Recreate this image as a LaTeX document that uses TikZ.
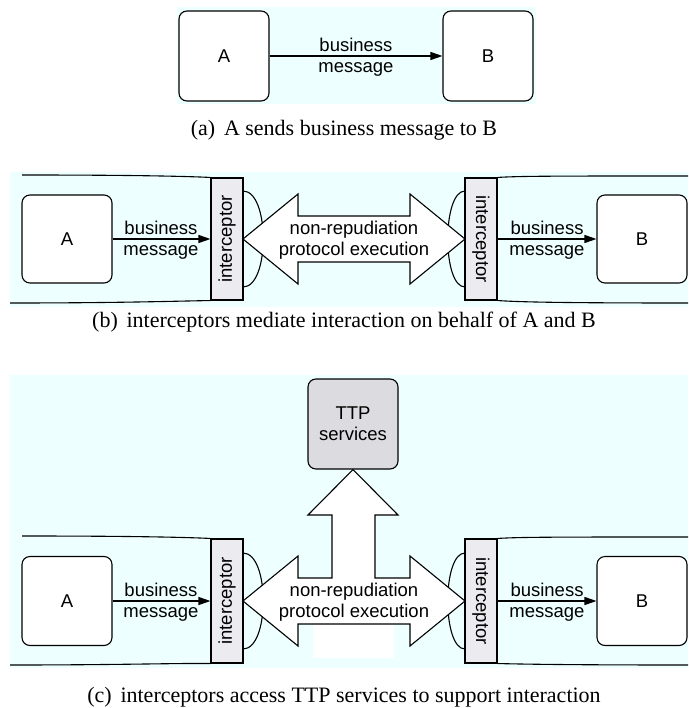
\documentclass[tikz,border=0pt]{standalone}
\usepackage{fontspec}
\usepackage{graphicx}
\setmainfont{Liberation Serif}
\newfontfamily\diagfont{Liberation Sans}
\usetikzlibrary{arrows.meta}

\definecolor{panelbg}{RGB}{238,255,255}
\definecolor{icfill}{RGB}{235,235,240}
\definecolor{ttpfill}{RGB}{220,220,224}

\tikzset{
  diagtext/.style={font=\diagfont\fontsize{18.5}{21}\selectfont},
  party/.style={draw, line width=1.1pt, rounded corners=8pt, fill=white,
    minimum width=90pt, minimum height=90pt, diagtext, align=center},
  ttp/.style={party, fill=ttpfill},
  icpt/.style={draw, line width=1.1pt, fill=icfill, minimum width=32pt,
    minimum height=122pt, inner sep=0pt, diagtext},
  msg/.style={-{Triangle[length=12pt,width=8pt]}, line width=1.1pt},
  msglabel/.style={align=center, diagtext, inner sep=0pt},
  bigarrow/.style={draw, fill=white, line width=1.1pt, line join=miter},
  edge/.style={line width=1.1pt},
  caption/.style={font=\fontsize{22}{25}\selectfont, inner sep=0pt}
}

\begin{document}
\begin{tikzpicture}[x=1pt,y=-1pt]
\useasboundingbox (0,0) rectangle (688,708);

% ---------- (a) direct interaction ----------
\fill[panelbg] (177,7) rectangle (536,104);
\node[party] (a-A) at (224,56) {A};
\node[party] (a-B) at (488,56) {B};
\draw[msg] (a-A) -- (a-B);
\node[msglabel] (a-msg) at (356,57) {business\\message};
\node[caption] (cap-a) at (344,130) {(a)\hspace{0.4em}A sends business message to B};

% ---------- (b) interceptors ----------
\fill[panelbg] (10,172) rectangle (688,307);
% interceptor bulges
\draw[edge] (243,191) .. controls (270,191) and (270,287) .. (243,287);
\draw[edge] (465,191) .. controls (442,191) and (442,287) .. (465,287);
% protocol arrow
\draw[bigarrow] (243,239) -- (298,194) -- (298,216) -- (410,216) -- (410,194)
  -- (465,239) -- (410,284) -- (410,262) -- (298,262) -- (298,284) -- cycle;
\node[msglabel] (b-proto) at (354,240) {non-repudiation\\protocol execution};
\node[icpt] (b-iL) at (227,239) {\rotatebox{90}{interceptor}};
\node[icpt] (b-iR) at (481,239) {\rotatebox{-90}{interceptor}};
\node[party, minimum height=88pt] (b-A) at (67,239) {A};
\node[party, minimum height=88pt] (b-B) at (642,239) {B};
\draw[msg] (b-A) -- (b-iL);
\draw[msg] (b-iR) -- (b-B);
\node[msglabel] (b-msgL) at (161,240) {business\\message};
\node[msglabel] (b-msgR) at (547,240) {business\\message};
% domain boundaries
\coordinate (b-tl) at (22,175);
\coordinate (b-bl) at (10,303);
\coordinate (b-tr) at (688,176);
\coordinate (b-br) at (688,303);
\draw[edge] (b-tl) .. controls (120,175) and (180,176) .. (b-iL.north west);
\draw[edge] (b-bl) .. controls (120,303) and (180,301) .. (b-iL.south west);
\draw[edge] (b-iR.north east) .. controls (520,176) and (560,176) .. (b-tr);
\draw[edge] (b-iR.south east) .. controls (520,302) and (560,303) .. (b-br);
\node[caption] (cap-b) at (344,322) {(b)\hspace{0.4em}interceptors mediate interaction on behalf of A and B};

% ---------- (c) interceptors with TTP ----------
\fill[panelbg] (10,375) rectangle (688,668);
\fill[white] (313,620) rectangle (394,658);
\draw[edge] (243,553) .. controls (270,553) and (270,649) .. (243,649);
\draw[edge] (465,553) .. controls (442,553) and (442,649) .. (465,649);
\node[ttp] (c-TTP) at (353,424) {TTP\\services};
\draw[bigarrow] (243,601) -- (298,556) -- (298,578) -- (332,578) -- (332,515)
  -- (308,515) -- (c-TTP.south) -- (398,515) -- (375,515) -- (375,578)
  -- (410,578) -- (410,556) -- (465,601) -- (410,646) -- (410,624)
  -- (298,624) -- (298,646) -- cycle;
\node[msglabel] (c-proto) at (354,602) {non-repudiation\\protocol execution};
\node[icpt, minimum height=124pt] (c-iL) at (227,601) {\rotatebox{90}{interceptor}};
\node[icpt, minimum height=124pt] (c-iR) at (481,601) {\rotatebox{-90}{interceptor}};
\node[party, minimum height=89pt] (c-A) at (67,601) {A};
\node[party, minimum height=89pt] (c-B) at (642,601) {B};
\draw[msg] (c-A) -- (c-iL);
\draw[msg] (c-iR) -- (c-B);
\node[msglabel] (c-msgL) at (161,602) {business\\message};
\node[msglabel] (c-msgR) at (547,602) {business\\message};
\coordinate (c-tl) at (22,536);
\coordinate (c-bl) at (10,665);
\coordinate (c-tr) at (688,537);
\coordinate (c-br) at (688,665);
\draw[edge] (c-tl) .. controls (120,536) and (180,537) .. (c-iL.north west);
\draw[edge] (c-bl) .. controls (120,665) and (180,663) .. (c-iL.south west);
\draw[edge] (c-iR.north east) .. controls (520,537) and (560,537) .. (c-tr);
\draw[edge] (c-iR.south east) .. controls (520,664) and (560,665) .. (c-br);
\node[caption] (cap-c) at (344,697) {(c)\hspace{0.4em}interceptors access TTP services to support interaction};

\end{tikzpicture}
\end{document}
